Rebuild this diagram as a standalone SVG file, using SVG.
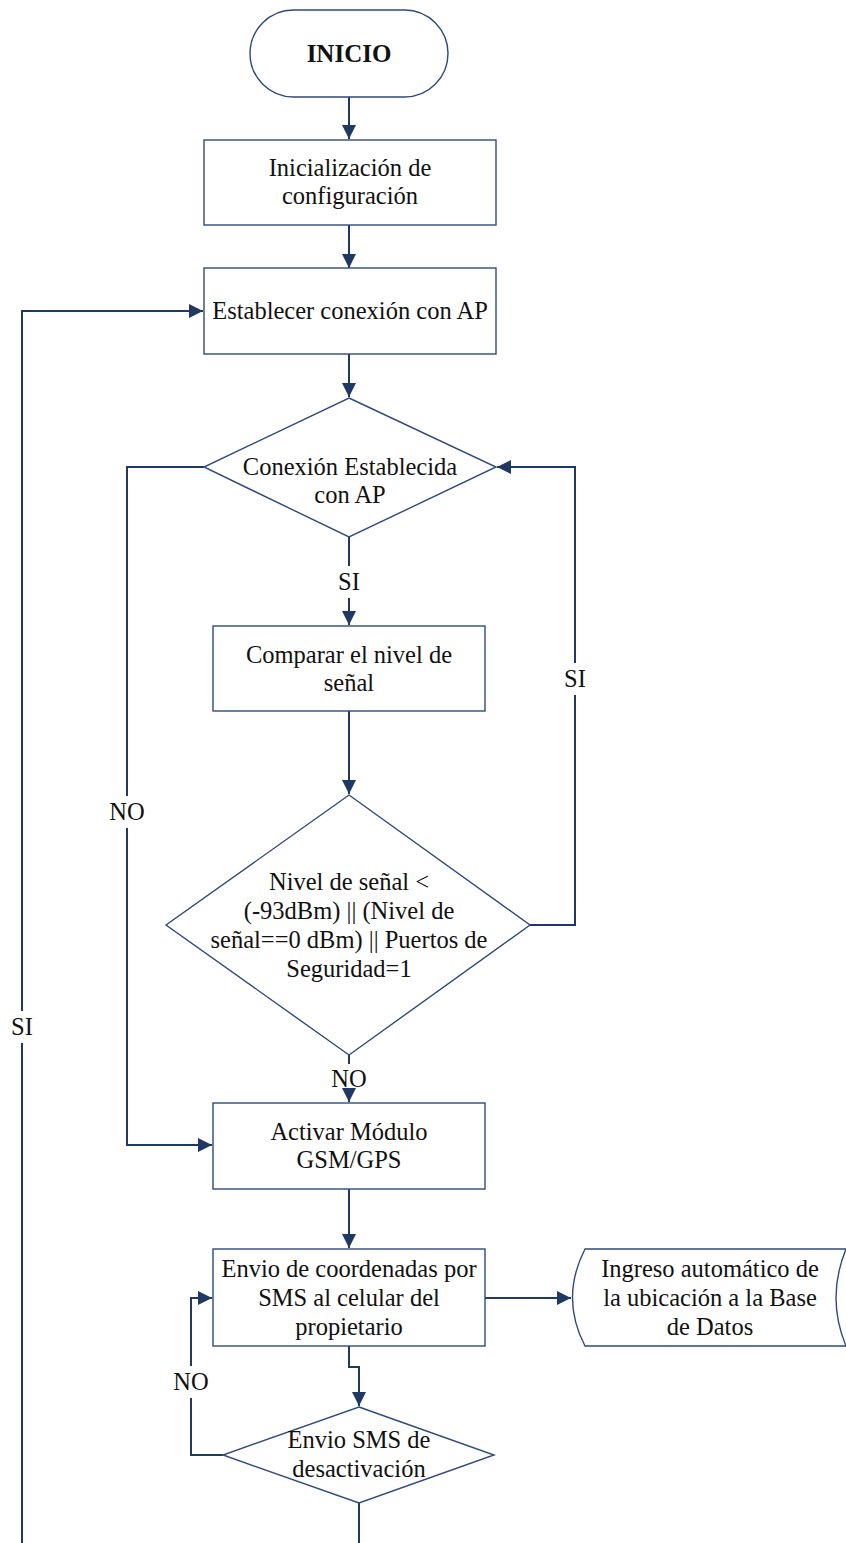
<svg xmlns="http://www.w3.org/2000/svg" width="846" height="1543" viewBox="0 0 846 1543">
  <style>
    .shape { fill: #ffffff; stroke: #2e4a7d; stroke-width: 1.4; }
    .conn { fill: none; stroke: #1f3864; stroke-width: 2; }
    text { font-family: "Liberation Serif", "Times New Roman", serif; font-size: 24.5px; fill: #111111; text-anchor: middle; }
    .bold { font-weight: bold; font-size: 25px; }
  </style>
  <defs>
    <marker id="arrow" markerUnits="userSpaceOnUse" markerWidth="14" markerHeight="14" viewBox="0 0 14 14" refX="14" refY="7" orient="auto">
      <path d="M0,0 L14,7 L0,14 Z" fill="#1f3864"/>
    </marker>
  </defs>

  <!-- connectors -->
  <g id="connectors">
    <path class="conn" d="M349,97 V139" marker-end="url(#arrow)"/>
    <path class="conn" d="M349,225 V268" marker-end="url(#arrow)"/>
    <path class="conn" d="M349,354 V397" marker-end="url(#arrow)"/>
    <!-- SI from first decision -->
    <path class="conn" d="M349,537 V566"/>
    <path class="conn" d="M349,598 V625" marker-end="url(#arrow)"/>
    <path class="conn" d="M349,711 V794" marker-end="url(#arrow)"/>
    <!-- NO from second decision -->
    <path class="conn" d="M349,1055 V1064"/>
    <path class="conn" d="M349,1095 V1102" marker-end="url(#arrow)"/>
    <path class="conn" d="M349,1189 V1248" marker-end="url(#arrow)"/>
    <!-- to database -->
    <path class="conn" d="M485,1298 H571" marker-end="url(#arrow)"/>
    <!-- to last decision -->
    <path class="conn" d="M349,1346 V1367 H359 V1406" marker-end="url(#arrow)"/>
    <path class="conn" d="M359,1503 V1543"/>
    <!-- NO loop of last decision -->
    <path class="conn" d="M223,1455 H191 V1398"/>
    <path class="conn" d="M191,1366 V1298 H212" marker-end="url(#arrow)"/>
    <!-- NO branch of first decision -->
    <path class="conn" d="M204,467 H127 V796"/>
    <path class="conn" d="M127,828 V1145 H212" marker-end="url(#arrow)"/>
    <!-- SI loop back to first decision -->
    <path class="conn" d="M530,925 H575 V695"/>
    <path class="conn" d="M575,663 V467 H497" marker-end="url(#arrow)"/>
    <!-- SI outer loop back to AP connection -->
    <path class="conn" d="M22,1543 V1043"/>
    <path class="conn" d="M22,1011 V311 H203" marker-end="url(#arrow)"/>
  </g>

  <!-- labels on connectors -->
  <g id="labels">
    <text x="349" y="590">SI</text>
    <text x="349" y="1087">NO</text>
    <text x="575" y="687">SI</text>
    <text x="127" y="820">NO</text>
    <text x="22" y="1035">SI</text>
    <text x="191" y="1390">NO</text>
  </g>

  <g id="inicio">
    <rect class="shape" x="250" y="10" width="198" height="87" rx="43.5" ry="43.5"/>
    <text class="bold" x="349" y="62">INICIO</text>
  </g>

  <g id="inicializacion">
    <rect class="shape" x="204" y="140" width="292" height="85"/>
    <text x="350" y="176">Inicialización de</text>
    <text x="350" y="204">configuración</text>
  </g>

  <g id="conexion-ap">
    <rect class="shape" x="204" y="268" width="292" height="86"/>
    <text x="350" y="319">Establecer conexión con AP</text>
  </g>

  <g id="decision-conexion">
    <polygon class="shape" points="349,398 496,467 349,537 204,467"/>
    <text x="350" y="475">Conexión Establecida</text>
    <text x="350" y="503">con AP</text>
  </g>

  <g id="comparar">
    <rect class="shape" x="213" y="626" width="272" height="85"/>
    <text x="349" y="663">Comparar el nivel de</text>
    <text x="349" y="691">señal</text>
  </g>

  <g id="decision-senal">
    <polygon class="shape" points="349,795 530,925 349,1055 166,925"/>
    <text x="349" y="890">Nivel de señal &lt;</text>
    <text x="349" y="919">(-93dBm) || (Nivel de</text>
    <text x="349" y="948">señal==0 dBm) || Puertos de</text>
    <text x="349" y="977">Seguridad=1</text>
  </g>

  <g id="activar-gsm">
    <rect class="shape" x="213" y="1103" width="272" height="86"/>
    <text x="349" y="1140">Activar Módulo</text>
    <text x="349" y="1168">GSM/GPS</text>
  </g>

  <g id="envio-coordenadas">
    <rect class="shape" x="213" y="1249" width="272" height="97"/>
    <text x="349" y="1277">Envio de coordenadas por</text>
    <text x="349" y="1306">SMS al celular del</text>
    <text x="349" y="1335">propietario</text>
  </g>

  <g id="base-datos">
    <path class="shape" d="M585,1249 H846 Q826,1298 846,1346 H585 Q560,1298 585,1249 Z"/>
    <text x="710" y="1277">Ingreso automático de</text>
    <text x="710" y="1306">la ubicación a la Base</text>
    <text x="710" y="1335">de Datos</text>
  </g>

  <g id="decision-sms">
    <polygon class="shape" points="359,1407 494,1455 359,1503 223,1455"/>
    <text x="359" y="1448">Envio SMS de</text>
    <text x="359" y="1477">desactivación</text>
  </g>
</svg>
